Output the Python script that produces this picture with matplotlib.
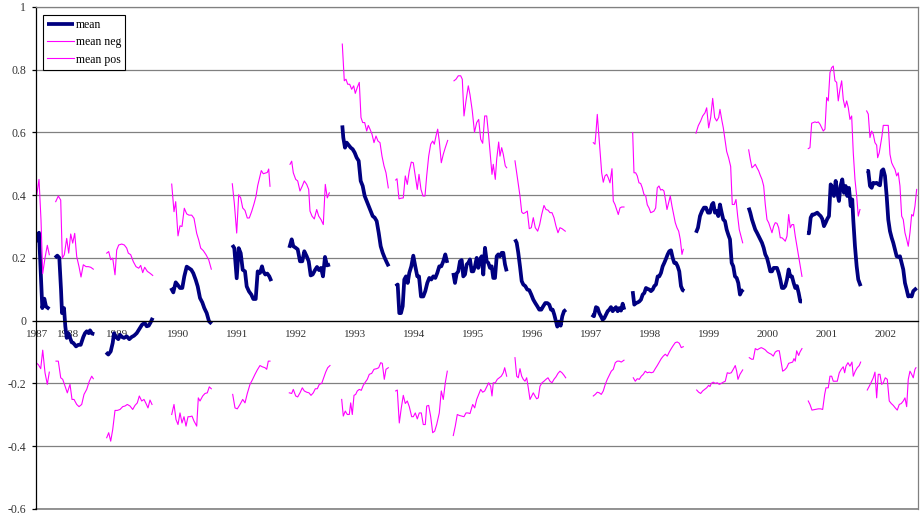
import matplotlib.pyplot as plt
import numpy as np

nan = np.nan

years = ['1987', '1988', '1989', '1990', '1991', '1992', '1993', '1994',
         '1995', '1996', '1997', '1998', '1999', '2000', '2001', '2002']
year_pos = [0.7, 32.3, 81, 142, 200.7, 260, 319, 378, 436.7, 496.3,
            554.7, 614, 673, 731.7, 790.7, 849.7]

# observation index (x) and values, one yearly block per line, nan = gap
mean_t = [
    0, 0.7, 3, 4.7, 6.3, 8.3, 10, 13.3, nan,
    19, 21.3, 23.3, 25, 26, 28, 29.3, 30.7, 32.3, 34, 35.7, 37.3, 40, 42.3, 44.7, 47.3, 49, 50.7, 52.7, 54, 56, 58.3, nan,
    70, 72.3, 74.7, 76.7, 78, 80, 82.3, 84, 86, 88, 90.7, 93.3, 95.7, 98, 100.7, 103.3, 106, 108.7, 110.7, 112.7, 114.7, 116.7, nan,
    135, 137.3, 139.7, 141.7, 144, 146.3, 148.3, 150.7, 153, 155.3, 157.3, 159.7, 161.7, 164, 166.3, 168.3, 170.7, 173, 175.7, nan,
    196.3, 198.3, 200.7, 202.7, 204.7, 206.7, 209, 210.7, 213, 215.3, 217.3, 219.7, 221.7, 224, 226, 227.3, 229.3, 231.3, 233.3, 235.3, nan,
    253.3, 255.7, 257.3, 259.7, 261.7, 264, 266.3, 268.3, 270.7, 272.7, 274.7, 276.7, 279, 281, 283, 285, 287, 289, 291, 294, nan,
    306.3, 307.3, 309, 310.7, 312.7, 314.7, 316.7, 318.7, 320.7, 322.7, 324.7, 326.7, 328.7, 330.7, 332.7, 334.7, 336.7, 338.7, 340.7, 342.7, 344.7, 346.7, 348.7, 350.7, 352.7, nan,
    359.7, 361.7, 363.3, 365, 366.7, 368.3, 370, 371.7, 373.3, 375.3, 377.3, 379.3, 381.3, 383, 385, 387.3, 389.3, 391.3, 393.3, 395.3, 397.3, 399.3, 401.3, 403.3, 405.3, 407.3, 409.3, 411.3, nan,
    417.3, 419, 420.7, 422.3, 424, 425.7, 427.3, 429, 430.7, 432.3, 434, 435.7, 437.3, 439, 440.7, 442.3, 444, 445.7, 447.3, 449, 450.7, 452.3, 454, 455.7, 457.3, 459, 460.7, 462.3, 464, 465.7, 467.3, 469, 470.7, nan,
    479, 480.7, 482.3, 484, 485.7, 487.3, 489.3, 491.3, 493.3, 495.3, 497.3, 499.3, 501.3, 503.3, 505.3, 507.3, 509.3, 511.3, 513.3, 515, 516.7, 518.3, 520, 521.3, 523, 524.7, 526.3, 528, 530, nan,
    555.7, 558, 560, 561.7, 563.3, 565, 566.7, 568.3, 570, 571.7, 573.3, 575, 576.7, 578.3, 580, 581.7, 583.3, 585, 586.7, 588.3, nan,
    596.7, 598.3, 600, 601.7, 603.3, 605, 606.7, 608.3, 610, 611.7, 613.3, 615, 616.7, 618.3, 620, 621.7, 623.3, 625, 626.7, 628.3, 630, 631.7, 633.3, 635, 636.7, 638.3, 640, 641.7, 643.3, 645, 646.7, 648.3, nan,
    660, 662, 664, 666, 668, 670, 672, 674, 676, 677.3, 679, 680.7, 682.3, 684, 685.7, 687.3, 689, 690.7, 692.3, 694, 695.7, 697.3, 699, 700.7, 702.3, 704, 705.7, 707.3, nan,
    712.7, 714.3, 716, 717.7, 719.3, 721, 722.7, 724.3, 726, 727.7, 729.3, 731, 732.7, 734.3, 736, 737.7, 739.3, 741, 742.7, 744.3, 746, 747.7, 749.3, 751, 752.7, 754.3, 756, 757.7, 759.3, 761, 762.7, 764.3, 766, nan,
    771.3, 773, 774.7, 776.3, 778, 779.7, 781.3, 783, 784.7, 786.3, 788, 789.7, 791.3, 793, 794.7, 796.3, 798, 799.7, 801.3, 803, 804.7, 806.3, 808, 809.7, 811.3, 813, 814.7, 816.3, 817.3, 819, 820.7, 822.3, 824.7, nan,
    830.7, 832.3, 834, 835.7, 837.3, 839, 840.7, 842.3, 844, 845.7, 847.3, 849, 850.7, 852.3, 854, 855.7, 857.3, 859, 860.7, 862.3, 864, 865.7, 867.3, 869, 870.7, 872.3, 874, 875.7, 877.3, 879, 880.7,
]
mean_v = [
    0.25, 0.27, 0.28, 0.16, 0.04, 0.07, 0.045, 0.037, nan,
    0.2, 0.207, 0.2, 0.099, 0.024, 0.04, -0.018, -0.055, -0.04, -0.055, -0.069, -0.071, -0.082, -0.077, -0.077, -0.052, -0.04, -0.034, -0.04, -0.031, -0.041, -0.043, nan,
    -0.101, -0.108, -0.098, -0.071, -0.04, -0.052, -0.059, -0.045, -0.052, -0.055, -0.05, -0.059, -0.052, -0.048, -0.04, -0.027, -0.013, -0.007, -0.018, -0.016, -0.005, 0.009, nan,
    0.104, 0.09, 0.122, 0.114, 0.104, 0.104, 0.141, 0.172, 0.167, 0.162, 0.151, 0.13, 0.109, 0.072, 0.058, 0.04, 0.024, -0.002, -0.01, nan,
    0.241, 0.231, 0.135, 0.231, 0.215, 0.162, 0.157, 0.109, 0.093, 0.083, 0.069, 0.069, 0.157, 0.152, 0.173, 0.157, 0.147, 0.15, 0.141, 0.126, nan,
    0.232, 0.259, 0.237, 0.232, 0.227, 0.189, 0.189, 0.221, 0.205, 0.189, 0.144, 0.147, 0.161, 0.171, 0.161, 0.168, 0.141, 0.203, 0.176, 0.179, nan,
    0.622, 0.583, 0.551, 0.567, 0.559, 0.551, 0.546, 0.535, 0.519, 0.509, 0.445, 0.429, 0.397, 0.381, 0.365, 0.349, 0.333, 0.328, 0.317, 0.28, 0.237, 0.216, 0.2, 0.186, 0.173, nan,
    0.11, 0.115, 0.024, 0.024, 0.046, 0.131, 0.141, 0.12, 0.152, 0.173, 0.207, 0.173, 0.141, 0.141, 0.077, 0.077, 0.094, 0.12, 0.136, 0.131, 0.141, 0.136, 0.152, 0.173, 0.173, 0.189, 0.211, 0.184, nan,
    0.152, 0.12, 0.15, 0.157, 0.189, 0.193, 0.141, 0.147, 0.179, 0.184, 0.195, 0.157, 0.157, 0.173, 0.2, 0.168, 0.195, 0.205, 0.147, 0.232, 0.189, 0.184, 0.168, 0.173, 0.136, 0.136, 0.205, 0.211, 0.205, 0.216, 0.216, 0.179, 0.157, nan,
    0.259, 0.248, 0.216, 0.173, 0.126, 0.115, 0.11, 0.099, 0.097, 0.083, 0.067, 0.056, 0.046, 0.035, 0.035, 0.046, 0.056, 0.056, 0.051, 0.035, 0.035, 0.019, -0.003, -0.019, -0.003, -0.016, 0.014, 0.03, 0.035, nan,
    0.019, 0.014, 0.043, 0.04, 0.024, 0.014, 0.003, 0.008, 0.019, 0.03, 0.035, 0.043, 0.03, 0.037, 0.043, 0.03, 0.04, 0.032, 0.054, 0.035, nan,
    0.094, 0.051, 0.056, 0.058, 0.061, 0.067, 0.083, 0.088, 0.104, 0.101, 0.099, 0.094, 0.099, 0.11, 0.115, 0.141, 0.141, 0.152, 0.173, 0.184, 0.197, 0.211, 0.221, 0.224, 0.2, 0.184, 0.184, 0.173, 0.157, 0.11, 0.097, 0.094, nan,
    0.28, 0.296, 0.333, 0.349, 0.36, 0.36, 0.344, 0.344, 0.37, 0.375, 0.344, 0.349, 0.333, 0.37, 0.344, 0.322, 0.317, 0.29, 0.274, 0.259, 0.184, 0.173, 0.141, 0.136, 0.12, 0.083, 0.094, 0.099, nan,
    0.36, 0.344, 0.322, 0.306, 0.29, 0.28, 0.269, 0.259, 0.248, 0.232, 0.211, 0.2, 0.179, 0.157, 0.157, 0.168, 0.168, 0.168, 0.152, 0.131, 0.104, 0.104, 0.11, 0.131, 0.163, 0.141, 0.141, 0.12, 0.104, 0.11, 0.088, 0.061, 0.061, nan,
    0.28, 0.278, 0.328, 0.338, 0.338, 0.341, 0.344, 0.338, 0.333, 0.324, 0.301, 0.312, 0.324, 0.333, 0.434, 0.423, 0.397, 0.445, 0.407, 0.381, 0.431, 0.45, 0.407, 0.429, 0.397, 0.423, 0.365, 0.386, 0.322, 0.237, 0.173, 0.131, 0.11, nan,
    0.477, 0.477, 0.429, 0.423, 0.439, 0.437, 0.439, 0.434, 0.431, 0.477, 0.482, 0.461, 0.397, 0.322, 0.285, 0.264, 0.248, 0.227, 0.205, 0.203, 0.205, 0.184, 0.163, 0.12, 0.099, 0.077, 0.08, 0.077, 0.094, 0.099, 0.104,
]

neg_t = [
    0, 2.3, 4.7, 6.7, 9, 11.3, 13.3, nan,
    20, 22.3, 24.7, 26.7, 29, 31.3, 34, 36, 38, 40.7, 43, 45.7, 48, 50.7, 53.3, 55.7, 57.3, nan,
    70.7, 72.7, 74.7, 76.7, 79, 81.3, 84, 86.7, 89, 91.3, 94, 96.7, 99, 101.3, 103.3, 105.7, 108, 110, 112, 114, 116, nan,
    135.7, 138, 140, 142, 144, 146, 148, 150, 152, 154, 156, 158, 160.7, 162.3, 164, 166.7, 169, 171.3, 173.3, 175.3, nan,
    196.7, 199, 201.3, 204, 206.7, 209, 211.3, 214, 216.3, 219, 221.3, 224, 226.3, 229, 230.7, 232.3, 234, nan,
    253.3, 255.7, 257.3, 259.7, 261.7, 264, 266.3, 268.3, 270.7, 273, 275, 277.3, 279.3, 281.3, 283.3, 285.7, 287.7, 289.7, 291.7, 294, nan,
    305.7, 307.3, 309.3, 311.3, 313.3, 314.7, 316.3, 318, 319.7, 321.3, 323.3, 325.3, 327.3, 329.3, 331.3, 333.3, 335.7, 338, 340.7, 342.7, 344.7, 346.3, 348.3, 350, 352.3, nan,
    359.7, 361.3, 363.3, 365.3, 367.3, 369.3, 371.3, 373.3, 375.7, 377.3, 379.3, 381.3, 383.3, 385.3, 387.3, 389.3, 390.7, 392.7, 394.7, 396.7, 398.7, 400.7, 403.3, 405.3, 407.3, 409.3, 411.3, nan,
    417.3, 419.3, 421.3, 423.3, 425.7, 428, 430, 432, 434, 436.7, 438.7, 440.7, 442.7, 444.7, 446.7, 448.7, 450.7, 452.7, 454.7, 456, 457.3, 459.3, 461.3, 463.3, 465.3, 467.3, 468.7, 470.7, nan,
    479, 480.7, 482.3, 484, 485.7, 487.3, 489, 490.7, 492.3, 494, 495.7, 497.3, 499, 500.7, 502.3, 504, 506, 508, 510, 512, 514, 516, 518, 520, 522, 524, 526, 528, 529.7, nan,
    557.3, 559.3, 561.3, 563.3, 565.3, 567.3, 569.3, 571.3, 573.3, 575.3, 577.3, 579.3, 581.3, 583.3, 585.3, 588, nan,
    597.3, 599.3, 601.3, 603.3, 605.3, 607.3, 609.3, 611.3, 613.3, 615.3, 617.3, 619.3, 621.3, 623.3, 625.3, 627.3, 629.3, 631.3, 633.3, 635.3, 637.3, 639.3, 641.3, 643.3, 645.3, 647.3, nan,
    660.7, 662.7, 664.7, 666.7, 668.7, 670.7, 672.7, 674, 675.3, 677.3, 679.3, 681.3, 683.3, 685.3, 687.3, 689.3, 691.3, 693.3, 695.3, 697.3, 699.3, 700.7, 702, 704, 706.7, nan,
    713.3, 715.7, 717.3, 719.3, 721.3, 723.3, 725.3, 727.3, 729.3, 731.3, 733.3, 735.3, 737.3, 739.3, 741.3, 743.3, 745.3, 746.7, 748.7, 750.7, 752.7, 754.7, 756.7, 758, 759.3, 760.7, 762.7, 764, 766, nan,
    772.3, 774, 776, 779, 782.3, 784.7, 786.7, 788.7, 790, 792.3, 794, 795.7, 797.3, 799.3, 801.3, 803.3, 805.3, 807.3, 808.7, 810, 812, 814, 816, 817.3, 819.3, 821.3, 823.3, 824.7, nan,
    831.3, 833.3, 835.3, 837.3, 839, 840.7, 842.3, 844, 845.7, 847.3, 849.3, 851.3, 853.3, 855.3, 857.3, 859.3, 861.3, 863.3, 865.3, 867.3, 869, 870.7, 872.3, 874, 875.7, 877.3, 879, 880,
]
neg_v = [
    -0.134, -0.14, -0.153, -0.094, -0.166, -0.203, -0.164, nan,
    -0.129, -0.129, -0.182, -0.187, -0.209, -0.23, -0.203, -0.251, -0.251, -0.267, -0.274, -0.267, -0.235, -0.219, -0.193, -0.177, -0.185, nan,
    -0.373, -0.357, -0.384, -0.347, -0.286, -0.286, -0.283, -0.274, -0.272, -0.267, -0.272, -0.283, -0.27, -0.262, -0.24, -0.256, -0.251, -0.264, -0.278, -0.253, -0.267, nan,
    -0.299, -0.267, -0.315, -0.331, -0.294, -0.326, -0.306, -0.336, -0.306, -0.306, -0.304, -0.32, -0.336, -0.246, -0.256, -0.24, -0.232, -0.23, -0.211, -0.217, nan,
    -0.235, -0.278, -0.281, -0.267, -0.251, -0.262, -0.232, -0.203, -0.189, -0.171, -0.157, -0.143, -0.147, -0.15, -0.155, -0.129, -0.129, nan,
    -0.23, -0.232, -0.219, -0.24, -0.243, -0.23, -0.214, -0.224, -0.228, -0.23, -0.238, -0.23, -0.217, -0.217, -0.203, -0.2, -0.182, -0.164, -0.15, -0.143, nan,
    -0.251, -0.304, -0.288, -0.299, -0.299, -0.262, -0.299, -0.238, -0.235, -0.224, -0.219, -0.222, -0.206, -0.196, -0.187, -0.171, -0.168, -0.155, -0.153, -0.15, -0.134, -0.136, -0.187, -0.155, -0.15, nan,
    -0.224, -0.221, -0.326, -0.278, -0.238, -0.264, -0.256, -0.274, -0.306, -0.306, -0.294, -0.313, -0.294, -0.294, -0.331, -0.331, -0.272, -0.27, -0.306, -0.357, -0.352, -0.331, -0.294, -0.224, -0.251, -0.198, -0.161, nan,
    -0.366, -0.336, -0.299, -0.302, -0.304, -0.306, -0.294, -0.294, -0.296, -0.267, -0.278, -0.251, -0.235, -0.219, -0.228, -0.224, -0.211, -0.198, -0.209, -0.24, -0.198, -0.198, -0.187, -0.182, -0.177, -0.166, -0.15, -0.177, nan,
    -0.118, -0.177, -0.182, -0.153, -0.177, -0.187, -0.193, -0.182, -0.214, -0.251, -0.24, -0.23, -0.24, -0.249, -0.246, -0.209, -0.198, -0.193, -0.187, -0.182, -0.193, -0.198, -0.187, -0.179, -0.168, -0.161, -0.166, -0.174, -0.182, nan,
    -0.24, -0.235, -0.228, -0.23, -0.235, -0.224, -0.203, -0.187, -0.174, -0.161, -0.155, -0.134, -0.129, -0.129, -0.132, -0.126, nan,
    -0.182, -0.193, -0.185, -0.187, -0.177, -0.171, -0.161, -0.166, -0.164, -0.166, -0.164, -0.153, -0.143, -0.132, -0.121, -0.113, -0.107, -0.113, -0.1, -0.089, -0.079, -0.07, -0.068, -0.072, -0.086, -0.083, nan,
    -0.221, -0.228, -0.232, -0.224, -0.219, -0.214, -0.206, -0.21, -0.2, -0.196, -0.2, -0.198, -0.203, -0.2, -0.196, -0.193, -0.166, -0.168, -0.166, -0.155, -0.143, -0.161, -0.187, -0.171, -0.157, nan,
    -0.118, -0.123, -0.123, -0.089, -0.093, -0.089, -0.086, -0.089, -0.093, -0.1, -0.104, -0.107, -0.113, -0.1, -0.096, -0.096, -0.134, -0.161, -0.157, -0.15, -0.136, -0.134, -0.132, -0.121, -0.129, -0.096, -0.111, -0.1, -0.089, nan,
    -0.256, -0.267, -0.285, -0.283, -0.281, -0.281, -0.283, -0.235, -0.214, -0.214, -0.177, -0.177, -0.193, -0.193, -0.193, -0.166, -0.155, -0.147, -0.166, -0.145, -0.134, -0.145, -0.132, -0.177, -0.161, -0.15, -0.143, -0.132, nan,
    -0.221, -0.209, -0.196, -0.182, -0.164, -0.246, -0.171, -0.171, -0.203, -0.198, -0.182, -0.187, -0.256, -0.264, -0.27, -0.278, -0.285, -0.267, -0.264, -0.256, -0.246, -0.274, -0.187, -0.161, -0.171, -0.182, -0.155, -0.15,
]

pos_t = [
    0.7, 3, 5, 6.7, 9, 11.3, 13.3, nan,
    19.7, 22.3, 24.7, 26.3, 28.3, 30.7, 32.7, 34.7, 36.7, 38.7, 40.7, 43, 45, 47.3, 50, 52.3, 54.7, 57.3, nan,
    70.7, 72.7, 74.7, 76.7, 79, 80.7, 82.7, 85.7, 88.3, 90.7, 92.3, 94.7, 97.3, 100, 102.7, 104.7, 106.7, 108.7, 111.3, 114, 116.7, nan,
    135.7, 138, 139.7, 142, 144, 146, 148.3, 150.7, 153, 155.7, 158, 160.7, 162.7, 164.7, 167.3, 170, 172.7, 175.3, nan,
    196.3, 198.3, 200.7, 202.7, 204.7, 206.7, 209, 211.3, 213.3, 215.7, 218, 220, 221.7, 223.3, 225.3, 227.3, 229.3, 231.3, 232.7, 234, nan,
    254, 255.7, 257.3, 259.7, 261.7, 264, 266.3, 268.3, 270.7, 272.7, 274, 276, 278.3, 280.7, 282.7, 285, 287.3, 289.3, 291.3, 293.3, nan,
    306.3, 308.3, 310, 311.7, 313.7, 315.7, 317.7, 319.3, 321.3, 323.3, 325, 326.7, 328.7, 330.7, 332.3, 334, 336, 338, 340, 342, 344, 346, 348, 350, 352.3, nan,
    359.7, 361, 363, 365, 367.3, 369.3, 371.3, 373.3, 375.3, 377.3, 379.3, 381.3, 383, 385, 387, 389, 390.7, 392.7, 394.7, 396.7, 398.3, 400, 401.7, 403.3, 405.3, 407.3, 409.3, 411.7, nan,
    418, 420, 422.3, 424.7, 426.3, 428, 430, 432.3, 434, 436.3, 438.5, 440.7, 442.7, 444.7, 446.7, 448.7, 450.7, 452.7, 454.7, 456, 457.3, 459.3, 460.7, 462.7, 464, 465.7, 467.3, 469.3, 470.7, nan,
    479, 480.7, 482.3, 484, 485.7, 487.3, 489.3, 491.3, 493.3, 495.3, 497.3, 499.3, 501.7, 503.7, 505.7, 508, 510, 512, 514, 516, 518, 520, 522, 524, 526, 528, 529.3, nan,
    557.3, 559, 560, 561.3, 562.7, 564, 565.7, 567.3, 569, 570.7, 572.3, 574, 576, 577.3, 579, 580.7, 582.3, 584, 585.7, 588, nan,
    596.7, 598, 599.7, 601.3, 603, 604.7, 606.3, 608, 609.7, 611.3, 613, 614.7, 616.3, 618, 619.7, 621.3, 623, 624.7, 626.3, 628, 629.7, 631, 632.7, 634.3, 636, 637.7, 639.3, 641, 642.7, 644.3, 646, 647.3, nan,
    660, 662.3, 664.7, 666.7, 669, 670.7, 672.7, 674.7, 676.7, 678.7, 680.7, 682.7, 684, 686, 687.3, 689, 690.7, 692.7, 694.7, 696.3, 698.3, 700, 701.7, 703.3, 705, 706.7, nan,
    712.7, 714.3, 716, 717.7, 719.3, 721, 722.7, 724.3, 726, 727.7, 729.3, 731, 732.7, 734.3, 736, 737.7, 739.3, 741, 742.7, 744.3, 746, 747.7, 749.3, 751, 752.7, 754.3, 756, 757.7, 759.3, 761, 762.7, 764.3, 766, nan,
    772.3, 774, 775.7, 777.3, 779, 780.7, 782.3, 784, 785.7, 787.3, 789, 790.7, 792.3, 794, 795.7, 797.3, 799, 800.7, 802.3, 804, 805.7, 807.3, 809, 810.7, 812.3, 814, 815.7, 817.3, 819, 820.7, 822.3, 824, nan,
    830.7, 832.3, 834, 835.7, 837.3, 839, 840.7, 841.7, 843.3, 844.7, 846, 847.3, 849, 850.7, 852.3, 854, 855.7, 857.3, 859, 860.7, 862.3, 864, 865.7, 867.3, 869, 870.7, 872.3, 874, 875.7, 877.3, 879, 880.7,
]
pos_v = [
    0.40, 0.45, 0.32, 0.15, 0.2, 0.24, 0.21, nan,
    0.379, 0.397, 0.384, 0.199, 0.21, 0.262, 0.215, 0.276, 0.247, 0.278, 0.204, 0.172, 0.139, 0.178, 0.172, 0.172, 0.17, 0.164, nan,
    0.215, 0.22, 0.194, 0.199, 0.146, 0.225, 0.241, 0.244, 0.241, 0.231, 0.215, 0.21, 0.188, 0.172, 0.167, 0.176, 0.153, 0.17, 0.157, 0.151, 0.144, nan,
    0.435, 0.347, 0.379, 0.27, 0.302, 0.3, 0.358, 0.34, 0.336, 0.336, 0.326, 0.278, 0.257, 0.231, 0.223, 0.21, 0.194, 0.164, nan,
    0.436, 0.375, 0.279, 0.401, 0.391, 0.359, 0.351, 0.327, 0.327, 0.348, 0.372, 0.396, 0.43, 0.451, 0.478, 0.468, 0.47, 0.472, 0.483, 0.428, nan,
    0.498, 0.508, 0.471, 0.45, 0.445, 0.413, 0.429, 0.445, 0.434, 0.418, 0.349, 0.333, 0.324, 0.354, 0.333, 0.322, 0.306, 0.434, 0.391, 0.407, nan,
    0.881, 0.764, 0.769, 0.753, 0.753, 0.737, 0.748, 0.724, 0.743, 0.759, 0.647, 0.631, 0.631, 0.604, 0.622, 0.61, 0.594, 0.567, 0.588, 0.572, 0.567, 0.524, 0.493, 0.471, 0.423, nan,
    0.448, 0.452, 0.388, 0.39, 0.391, 0.461, 0.434, 0.477, 0.505, 0.503, 0.461, 0.418, 0.466, 0.418, 0.397, 0.397, 0.461, 0.524, 0.562, 0.572, 0.562, 0.588, 0.61, 0.572, 0.503, 0.53, 0.551, 0.574, nan,
    0.764, 0.769, 0.78, 0.78, 0.769, 0.652, 0.7, 0.748, 0.72, 0.668, 0.6, 0.631, 0.641, 0.578, 0.565, 0.652, 0.652, 0.588, 0.514, 0.466, 0.498, 0.45, 0.514, 0.569, 0.524, 0.551, 0.53, 0.493, 0.487, nan,
    0.509, 0.471, 0.434, 0.397, 0.346, 0.341, 0.344, 0.349, 0.293, 0.296, 0.328, 0.296, 0.285, 0.306, 0.338, 0.367, 0.354, 0.352, 0.344, 0.344, 0.328, 0.301, 0.28, 0.296, 0.293, 0.288, 0.285, nan,
    0.567, 0.562, 0.599, 0.657, 0.599, 0.546, 0.471, 0.441, 0.461, 0.466, 0.455, 0.439, 0.484, 0.381, 0.37, 0.354, 0.338, 0.359, 0.362, 0.362, nan,
    0.599, 0.471, 0.471, 0.461, 0.439, 0.437, 0.423, 0.402, 0.398, 0.369, 0.359, 0.344, 0.346, 0.349, 0.359, 0.423, 0.429, 0.416, 0.418, 0.413, 0.381, 0.354, 0.376, 0.397, 0.365, 0.338, 0.312, 0.296, 0.285, 0.259, 0.211, 0.227, nan,
    0.597, 0.621, 0.636, 0.652, 0.662, 0.678, 0.614, 0.647, 0.708, 0.647, 0.636, 0.647, 0.673, 0.636, 0.615, 0.578, 0.539, 0.518, 0.491, 0.37, 0.37, 0.386, 0.333, 0.29, 0.269, 0.248, nan,
    0.544, 0.514, 0.487, 0.492, 0.498, 0.487, 0.477, 0.463, 0.45, 0.429, 0.37, 0.322, 0.312, 0.296, 0.28, 0.301, 0.312, 0.31, 0.296, 0.264, 0.264, 0.259, 0.253, 0.269, 0.338, 0.296, 0.306, 0.306, 0.269, 0.237, 0.205, 0.173, 0.141, nan,
    0.548, 0.551, 0.629, 0.631, 0.633, 0.631, 0.633, 0.626, 0.615, 0.604, 0.61, 0.711, 0.7, 0.79, 0.806, 0.811, 0.764, 0.759, 0.7, 0.737, 0.764, 0.705, 0.679, 0.7, 0.679, 0.641, 0.652, 0.535, 0.45, 0.397, 0.333, 0.354, nan,
    0.668, 0.658, 0.583, 0.604, 0.594, 0.567, 0.559, 0.519, 0.535, 0.562, 0.588, 0.622, 0.622, 0.622, 0.622, 0.53, 0.503, 0.492, 0.482, 0.461, 0.471, 0.429, 0.333, 0.322, 0.28, 0.259, 0.237, 0.28, 0.338, 0.333, 0.365, 0.418,
]

serif = ['Liberation Serif', 'DejaVu Serif']
plt.rcParams['font.family'] = serif

fig, ax = plt.subplots(figsize=(9.21, 5.17), dpi=100)
fig.subplots_adjust(left=0.0391, right=0.9967, bottom=0.0155, top=0.987)

ax.plot(mean_t, mean_v, color='#000080', lw=2.7, label='mean', solid_capstyle='butt')
ax.plot(neg_t, neg_v, color='#FF00FF', lw=0.8, label='mean neg')
ax.plot(pos_t, pos_v, color='#FF00FF', lw=0.8, label='mean pos')

ax.set_xlim(0, 882)
ax.set_ylim(-0.6, 1.0)
yt = np.round(np.arange(-0.6, 1.01, 0.2), 1)
ax.set_yticks(yt)
ax.set_yticklabels(['1' if v == 1 else ('0' if v == 0 else f'{v:g}') for v in yt])
ax.yaxis.grid(True, color='#808080', lw=0.9)
ax.set_axisbelow(True)
# plot-area border along the bottom edge
ax.axhline(-0.6, color='#808080', lw=1.2, clip_on=False, zorder=0)

ax.set_xticks(year_pos)
ax.set_xticklabels(years)
ax.spines['bottom'].set_position(('data', 0))
ax.spines['bottom'].set_color('black')
ax.spines['bottom'].set_linewidth(0.9)
ax.spines['left'].set_linewidth(0.9)
for s in ('top', 'right'):
    ax.spines[s].set_color('#808080')
    ax.spines[s].set_linewidth(0.9)
ax.tick_params(axis='x', length=0, pad=7, labelsize=8, labelcolor='#333333')
ax.tick_params(axis='y', length=3, width=0.9, pad=4, labelsize=8.5, labelcolor='#333333')

leg = ax.legend(loc='upper left', bbox_to_anchor=(0.008, 0.984), borderaxespad=0,
                fancybox=False, framealpha=1, edgecolor='black', fontsize=8.5,
                handlelength=2.3, handletextpad=0.1, labelspacing=0.45,
                borderpad=0.35)
leg.get_frame().set_linewidth(0.8)

fig.savefig('out.png', dpi=100)
